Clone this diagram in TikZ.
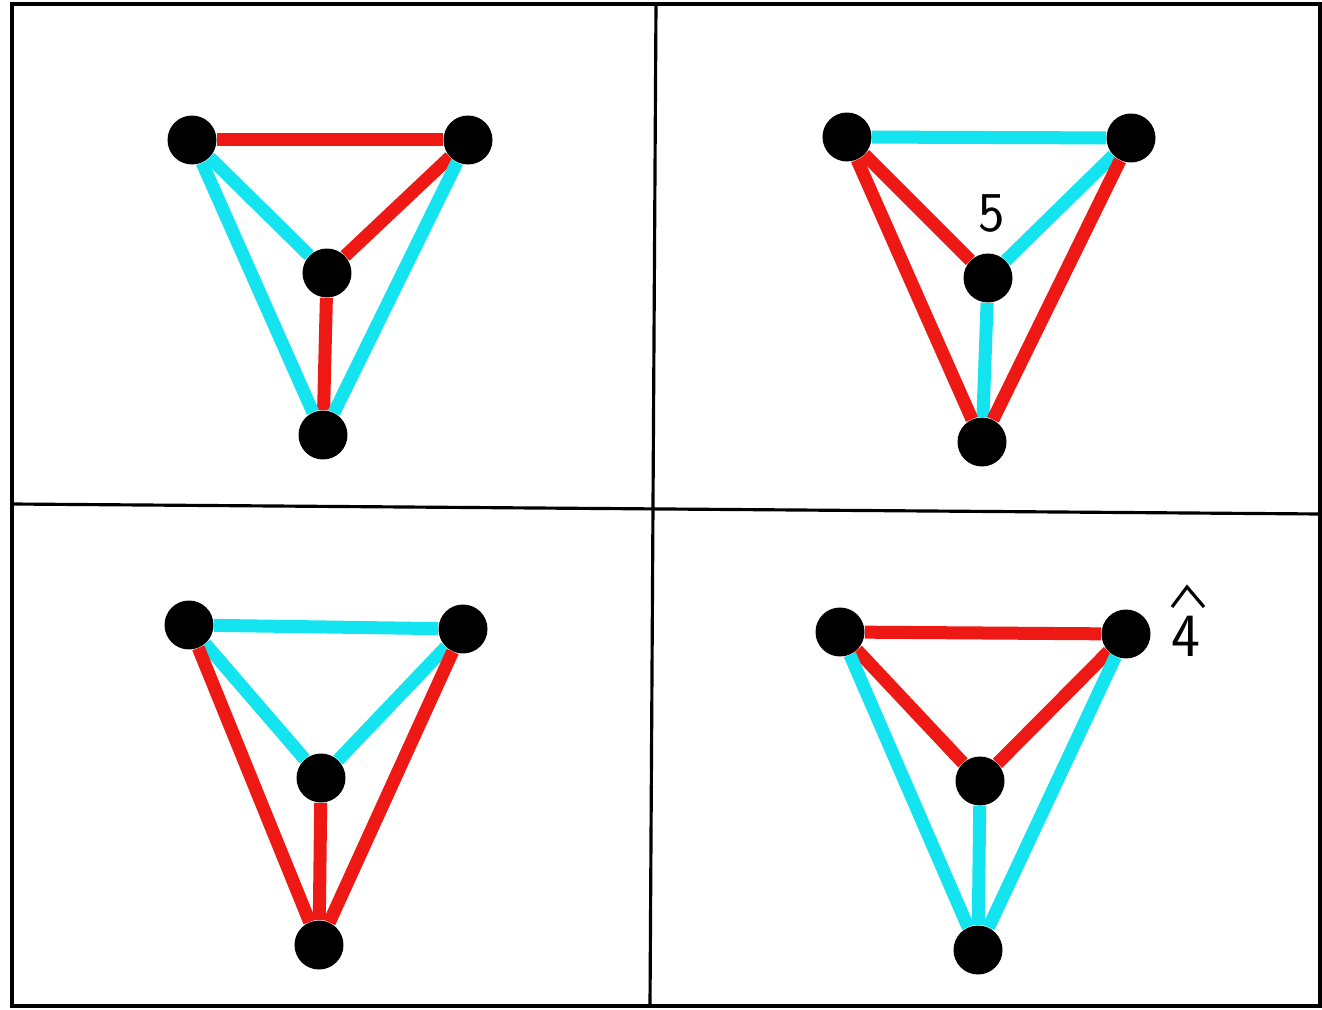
\documentclass[tikz,border=0pt]{standalone}
\usepackage{amsmath}
\usetikzlibrary{calc}
\definecolor{edgered}{RGB}{238,24,20}
\definecolor{edgecyan}{RGB}{20,228,240}

\tikzset{
  dot/.style={circle, fill=black, minimum size=0.98cm, inner sep=0pt},
  redge/.style={draw, edgered, line width=7.4pt},
  cedge/.style={draw, edgecyan, line width=7.4pt},
  frame/.style={draw, black, line width=1.8pt}
}

\begin{document}
\begin{tikzpicture}[x=0.02cm, y=-0.02cm]
                \useasboundingbox (0,0) rectangle (1322,1010);
                % frame and dividers
                \path[frame](12,4)rectangle(1320,1006);
                \path[frame](656,4)to(650,1006);
                \path[frame](12,504)to(1320,514);

                % top left
                \node[dot](a1)at(192,140){};
                \node[dot](b1)at(468,140){};
                \node[dot](c1)at(327,273){};
                \node[dot](d1)at(323,435){};
                \path[redge](a1)to(b1);
                \path[cedge](a1)to(c1);
                \path[redge](b1)to(c1);
                \path[redge](c1)to(d1);
                \path[cedge](a1)to(d1);
                \path[cedge](b1)to(d1);

                % top right
                \node[dot](a2)at(847,137){};
                \node[dot](b2)at(1131,138){};
                \node[dot](c2)at(988,278){};
                \node[dot](d2)at(982,442){};
                \path[cedge](a2)to(b2);
                \path[redge](a2)to(c2);
                \path[cedge](b2)to(c2);
                \path[cedge](c2)to(d2);
                \path[redge](a2)to(d2);
                \path[redge](b2)to(d2);
                \node[font=\sffamily\fontsize{32}{32}\selectfont](five)at(992,214){5};

                % bottom left
                \node[dot](a3)at(189,625){};
                \node[dot](b3)at(463,629){};
                \node[dot](c3)at(321,778){};
                \node[dot](d3)at(319,945){};
                \path[cedge](a3)to(b3);
                \path[cedge](a3)to(c3);
                \path[cedge](b3)to(c3);
                \path[redge](c3)to(d3);
                \path[redge](a3)to(d3);
                \path[redge](b3)to(d3);

                % bottom right
                \node[dot](a4)at(840,632){};
                \node[dot](b4)at(1126,634){};
                \node[dot](c4)at(980,781){};
                \node[dot](d4)at(978,950){};
                \path[redge](a4)to(b4);
                \path[redge](a4)to(c4);
                \path[redge](b4)to(c4);
                \path[cedge](c4)to(d4);
                \path[cedge](a4)to(d4);
                \path[cedge](b4)to(d4);
                \node[font=\sffamily\fontsize{35}{35}\selectfont](four)at(1186,636){4};
                \path[draw, line width=1.8pt](1172,607)to(1187,587)to(1204,607);
            \end{tikzpicture}
\end{document}
